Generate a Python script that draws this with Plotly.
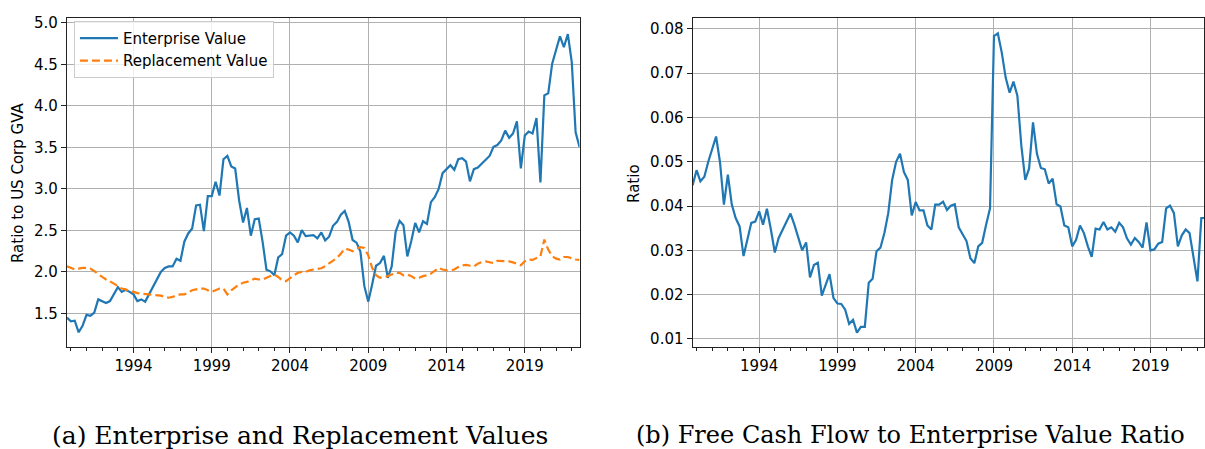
import pandas as pd
import plotly.graph_objects as go

# ---- data (quarterly, 1989Q4 .. 2022Q3) ----
START_QUARTER = "1989Q4"
N_QUARTERS = 132

enterprise_value = [
    1.45, 1.405, 1.413, 1.274, 1.353, 1.484, 1.472, 1.512, 1.67, 1.65,
    1.627, 1.65, 1.73, 1.817, 1.76, 1.786, 1.76, 1.73, 1.65, 1.67,
    1.643, 1.738, 1.817, 1.909, 2.0, 2.048, 2.067, 2.067, 2.159, 2.135,
    2.365, 2.464, 2.524, 2.802, 2.81, 2.492, 2.913, 2.913, 3.087, 2.92,
    3.357, 3.397, 3.27, 3.246, 2.861, 2.595, 2.77, 2.437, 2.635, 2.643,
    2.365, 2.028, 2.008, 1.96, 2.175, 2.214, 2.437, 2.476, 2.437, 2.357,
    2.504, 2.433, 2.437, 2.444, 2.405, 2.476, 2.381, 2.425, 2.556, 2.603,
    2.69, 2.734, 2.603, 2.385, 2.353, 2.246, 1.829, 1.643, 1.849, 2.075,
    2.107, 2.194, 1.929, 2.067, 2.484, 2.615, 2.563, 2.187, 2.373, 2.591,
    2.476, 2.611, 2.579, 2.841, 2.901, 3.0, 3.19, 3.238, 3.286, 3.23,
    3.357, 3.369, 3.329, 3.091, 3.238, 3.258, 3.306, 3.349, 3.397, 3.508,
    3.528, 3.583, 3.702, 3.615, 3.667, 3.813, 3.246, 3.643, 3.69, 3.667,
    3.853, 3.079, 4.127, 4.151, 4.508, 4.675, 4.837, 4.706, 4.865, 4.528,
    3.683, 3.504,
]

replacement_value = [
    2.07, 2.05, 2.03, 2.04, 2.05, 2.05, 2.04, 2.01, 1.97, 1.94,
    1.91, 1.89, 1.86, 1.83, 1.80, 1.79, 1.77, 1.76, 1.745, 1.74,
    1.735, 1.73, 1.73, 1.72, 1.715, 1.70, 1.69, 1.70, 1.72, 1.73,
    1.73, 1.75, 1.78, 1.79, 1.80, 1.80, 1.78, 1.76, 1.78, 1.80,
    1.80, 1.73, 1.78, 1.82, 1.85, 1.87, 1.88, 1.90, 1.92, 1.91,
    1.91, 1.93, 1.95, 1.97, 1.94, 1.90, 1.89, 1.93, 1.96, 1.99,
    2.0, 2.0, 2.02, 2.03, 2.04, 2.045, 2.07, 2.10, 2.135, 2.17,
    2.22, 2.28, 2.27, 2.25, 2.28, 2.30, 2.29, 2.20, 2.05, 1.96,
    1.93, 1.94, 1.95, 1.97, 1.99, 1.99, 1.96, 1.97, 1.95, 1.92,
    1.93, 1.95, 1.96, 1.98, 2.02, 2.05, 2.03, 2.02, 2.02, 2.03,
    2.06, 2.08, 2.085, 2.08, 2.067, 2.10, 2.12, 2.127, 2.115, 2.107,
    2.135, 2.135, 2.13, 2.127, 2.115, 2.10, 2.08, 2.13, 2.15, 2.145,
    2.17, 2.19, 2.39, 2.27, 2.19, 2.16, 2.15, 2.18, 2.18, 2.16,
    2.15, 2.145,
]

fcf_to_ev = [
    0.0447, 0.0481, 0.0456, 0.0466, 0.0500, 0.0529, 0.0557, 0.0500, 0.0403, 0.0471,
    0.0404, 0.0373, 0.0354, 0.0287, 0.0328, 0.0362, 0.0365, 0.0388, 0.0358, 0.0394,
    0.0347, 0.0295, 0.0328, 0.0347, 0.0364, 0.0383, 0.0358, 0.0328, 0.0300, 0.0318,
    0.0239, 0.0267, 0.0272, 0.0198, 0.0222, 0.0246, 0.0192, 0.0180, 0.0179, 0.0166,
    0.0134, 0.0143, 0.0114, 0.0127, 0.0127, 0.0227, 0.0236, 0.0298, 0.0306, 0.0339,
    0.0384, 0.0459, 0.0500, 0.0518, 0.0477, 0.0459, 0.0379, 0.0409, 0.0390, 0.0390,
    0.0356, 0.0347, 0.0403, 0.0403, 0.0410, 0.0391, 0.0401, 0.0404, 0.0352, 0.0336,
    0.0321, 0.0282, 0.0271, 0.0309, 0.0317, 0.0358, 0.0395, 0.0784, 0.0790, 0.0747,
    0.0690, 0.0656, 0.0681, 0.0649, 0.0537, 0.0459, 0.0485, 0.0589, 0.0518, 0.0486,
    0.0483, 0.0451, 0.0462, 0.0404, 0.0399, 0.0356, 0.0352, 0.0309, 0.0324, 0.0356,
    0.0339, 0.0309, 0.0285, 0.0349, 0.0347, 0.0364, 0.0347, 0.0352, 0.0342, 0.0362,
    0.0352, 0.0327, 0.0313, 0.0328, 0.0319, 0.0306, 0.0363, 0.0300, 0.0302, 0.0315,
    0.0319, 0.0395, 0.0401, 0.0384, 0.0309, 0.0334, 0.0347, 0.0339, 0.0283, 0.0230,
    0.0373, 0.0373,
]

left_yticks = [1.5, 2.0, 2.5, 3.0, 3.5, 4.0, 4.5, 5.0]
right_yticks = [0.01, 0.02, 0.03, 0.04, 0.05, 0.06, 0.07, 0.08]
year_ticks = ["1994", "1999", "2004", "2009", "2014", "2019"]

dates = pd.period_range(START_QUARTER, periods=N_QUARTERS, freq="Q").to_timestamp()

W, H = 1205, 449
BLUE = "#1f77b4"
ORANGE = "#ff7f0e"
TICK_FONT = dict(family="DejaVu Sans", size=15, color="black")

fig = go.Figure()
fig.add_trace(go.Scatter(x=dates, y=enterprise_value, mode="lines", name="Enterprise Value",
                         line=dict(color=BLUE, width=2.2), xaxis="x", yaxis="y"))
fig.add_trace(go.Scatter(x=dates, y=replacement_value, mode="lines", name="Replacement Value",
                         line=dict(color=ORANGE, width=2.2, dash="8px,4px"), xaxis="x", yaxis="y"))
fig.add_trace(go.Scatter(x=dates, y=fcf_to_ev, mode="lines", name="FCF/EV", showlegend=False,
                         line=dict(color=BLUE, width=2.2), xaxis="x2", yaxis="y2"))

def px_x(p):
    return p / W

def px_y(p):
    return 1 - p / H

tickvals_x = [f"{y}-01-01" for y in year_ticks]

xcommon = dict(
    type="date", tickvals=tickvals_x, ticktext=year_ticks,
    showgrid=True, gridcolor="#b0b0b0", gridwidth=1.2,
    showline=True, linecolor="#222", linewidth=1.2, mirror=True,
    ticks="outside", ticklen=5, tickwidth=1.2, tickcolor="#222",
    tickfont=TICK_FONT, zeroline=False,
    minor=dict(ticks="outside", ticklen=3, tickwidth=1, tickcolor="#222",
               dtick="M12", tick0="1990-01-01", showgrid=False),
)
ycommon = dict(
    showgrid=True, gridcolor="#b0b0b0", gridwidth=1.2,
    showline=True, linecolor="#222", linewidth=1.2, mirror=True,
    ticks="outside", ticklen=5, tickwidth=1.2, tickcolor="#222",
    tickfont=TICK_FONT, zeroline=False,
)

fig.update_layout(
    width=W, height=H,
    margin=dict(l=0, r=0, t=0, b=0),
    paper_bgcolor="white", plot_bgcolor="white",
    xaxis=dict(domain=[px_x(67), px_x(580)], range=["1989-10-01", "2022-07-01"],
               anchor="y", **xcommon),
    yaxis=dict(domain=[px_y(347), px_y(14)], range=[1.095, 5.06], tickvals=left_yticks,
               tickformat=".1f", anchor="x", **ycommon),
    xaxis2=dict(domain=[px_x(693.2), 1.0], range=["1989-10-01", "2022-06-03"],
                anchor="y2", **xcommon),
    yaxis2=dict(domain=[px_y(347), px_y(14)], range=[0.00814, 0.0825], tickvals=right_yticks,
                tickformat=".2f", anchor="x2", **ycommon),
    legend=dict(x=px_x(74), y=px_y(17), xanchor="left", yanchor="top",
                bgcolor="rgba(255,255,255,0.8)", bordercolor="#cccccc", borderwidth=1,
                font=dict(family="DejaVu Sans", size=15, color="black"),
                tracegroupgap=0, itemwidth=38),
    showlegend=True,
)

fig.add_annotation(text="Ratio to US Corp GVA", x=px_x(18), y=px_y(181), xref="paper", yref="paper",
                   textangle=-90, showarrow=False, font=dict(family="DejaVu Sans", size=15, color="black"),
                   xanchor="center", yanchor="middle")
fig.add_annotation(text="Ratio", x=px_x(634.5), y=px_y(181), xref="paper", yref="paper",
                   textangle=-90, showarrow=False, font=dict(family="DejaVu Sans", size=15, color="black"),
                   xanchor="center", yanchor="middle")

fig.add_annotation(text="(a) Enterprise and Replacement Values", x=px_x(50), y=px_y(436),
                   xref="paper", yref="paper", showarrow=False,
                   font=dict(family="DejaVu Serif", size=25, color="black"),
                   xanchor="left", yanchor="middle")
fig.add_annotation(text="(b) Free Cash Flow to Enterprise Value Ratio", x=px_x(635), y=px_y(436),
                   xref="paper", yref="paper", showarrow=False,
                   font=dict(family="DejaVu Serif", size=24, color="black"),
                   xanchor="left", yanchor="middle")

fig.write_html(
    "out.html",
    config={"displayModeBar": False},
    post_script="document.body.style.margin='0';document.body.style.overflow='hidden';",
)
